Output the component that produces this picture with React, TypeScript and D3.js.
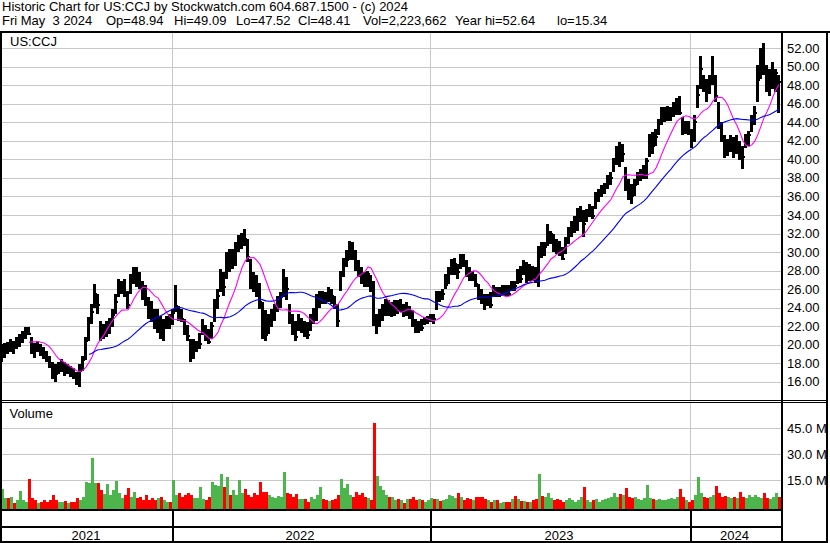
import React from 'react';
import * as d3 from 'd3';

// ---- Data (each sample ≈ 3 trading days) ----
const highs = [
  20.1,20.2,20.3,20.6,20.4,20.8,21.1,21.5,21.9,21.9,
  20.8,20.2,20.4,20.1,19.7,19.3,18.8,18.1,17.9,18.1,
  18.4,18.1,17.9,17.7,17.5,17.0,17.9,18.8,20.8,23.0,
  24.4,26.5,25.5,22.6,22.2,22.6,22.9,23.8,25.5,27.1,
  26.9,27.1,25.8,27.6,28.4,28.4,27.8,26.9,26.4,25.1,
  24.7,23.9,23.9,23.1,22.8,23.1,23.3,23.9,26.4,24.2,
  23.9,22.8,22.1,20.6,20.6,20.4,21.3,22.8,22.1,21.7,
  22.4,24.9,26.0,28.2,27.8,30.0,30.3,30.3,31.1,31.8,
  32.1,32.5,31.4,29.3,27.8,27.5,26.7,24.6,23.7,23.3,
  23.9,24.4,25.3,25.7,28.2,27.3,24.4,23.3,22.6,23.3,
  22.9,22.6,22.4,23.3,24.0,25.5,25.8,25.8,25.7,26.2,
  26.0,25.3,24.4,28.0,29.4,30.2,31.2,31.1,30.2,29.1,
  28.4,27.8,28.0,27.5,26.9,23.3,23.9,24.4,24.9,24.8,
  24.6,24.8,24.8,24.9,24.4,24.6,24.2,23.7,22.8,22.6,
  22.8,23.0,23.1,23.3,23.3,25.8,25.8,26.0,27.6,28.4,
  29.3,29.4,28.7,29.8,29.8,29.1,28.4,28.0,27.6,26.6,
  26.0,25.5,25.5,25.7,26.4,26.2,26.2,26.4,26.4,26.4,
  26.9,26.9,28.2,28.5,29.1,28.9,28.7,28.5,28.4,30.6,
  31.1,31.1,33.0,32.3,32.0,31.4,31.2,30.5,31.6,32.7,
  33.4,33.9,34.8,35.0,34.5,34.7,35.2,35.0,36.5,36.8,
  37.2,37.5,38.3,38.6,40.2,41.5,41.9,41.7,39.2,37.9,
  37.4,37.9,38.6,39.0,39.4,40.2,42.8,43.0,43.3,44.4,
  45.7,45.7,45.8,45.7,46.2,46.6,46.8,44.6,44.2,44.2,
  43.3,44.8,48.0,51.2,49.1,48.7,49.1,51.2,49.1,46.2,
  44.0,42.6,42.2,42.6,42.4,42.6,42.0,41.5,42.8,43.1,
  44.8,45.8,50.2,52.0,52.6,50.2,49.8,50.5,49.8,49.1,
];
const lows = [
  18.1,18.6,19.0,19.2,19.0,19.5,19.7,20.2,20.6,21.0,
  19.0,18.6,19.2,18.8,18.4,18.1,17.5,16.3,16.0,16.8,
  17.0,16.6,16.8,16.5,16.3,15.6,15.4,17.2,18.3,20.4,
  22.2,24.0,23.3,20.4,20.6,20.8,21.1,21.9,23.3,25.1,
  25.5,25.1,23.9,25.5,26.6,26.2,26.0,24.8,24.2,22.8,
  22.4,21.7,21.3,20.6,20.4,21.7,21.7,22.1,23.5,22.6,
  22.4,21.0,20.4,18.1,18.4,19.2,19.5,21.0,20.4,20.1,
  20.6,22.4,23.9,25.7,25.3,27.1,27.8,28.2,28.5,30.0,
  30.3,30.7,28.9,26.0,25.7,25.1,23.9,20.6,20.4,21.2,
  21.9,22.6,23.5,24.0,25.1,24.8,22.2,21.0,20.4,21.5,
  21.3,20.8,20.6,21.5,22.2,22.6,24.0,24.4,24.4,24.6,
  24.4,23.9,21.9,25.8,27.3,28.4,29.1,29.1,28.0,27.3,
  26.6,26.2,26.2,25.7,22.0,21.1,21.9,22.6,23.1,23.1,
  23.0,23.1,23.3,23.5,23.0,23.1,22.8,21.9,21.3,21.3,
  21.5,22.1,22.2,22.4,22.2,23.7,24.6,24.8,26.0,26.6,
  27.5,27.5,27.1,28.2,28.4,27.3,26.9,26.9,26.2,24.8,
  24.4,23.7,24.2,24.0,25.1,25.1,25.1,25.3,25.3,25.3,
  25.8,25.8,26.6,26.7,27.5,26.7,26.9,26.9,26.7,26.2,
  29.4,29.6,30.7,30.9,30.0,29.8,29.6,29.1,29.8,30.9,
  31.6,32.1,32.3,33.2,31.6,33.2,33.8,33.6,34.7,35.4,
  35.9,36.3,36.8,37.2,38.6,39.4,39.2,39.7,36.6,35.6,
  35.2,36.1,37.2,37.7,37.9,37.9,40.3,40.6,41.5,42.6,
  43.7,44.0,44.2,44.2,44.6,44.8,44.8,42.6,42.8,42.6,
  41.2,41.9,45.5,47.6,47.3,46.2,47.1,48.0,46.2,43.3,
  41.9,40.2,40.4,40.8,40.2,40.6,39.9,39.0,41.2,41.5,
  43.0,43.7,46.2,48.7,49.1,47.3,46.9,47.6,47.3,45.0,
];
const closes = [
  19.0,19.5,19.4,20.2,19.6,20.3,20.8,21.1,21.4,21.2,
  19.6,19.4,19.8,19.3,18.9,18.5,17.9,16.9,16.8,17.4,
  17.8,17.2,17.5,17.0,16.9,16.1,17.2,18.3,20.4,22.5,
  23.5,25.5,24.3,21.3,21.5,22.0,22.4,23.2,24.6,26.0,
  26.5,25.7,24.3,27.0,27.8,27.5,26.5,25.9,24.5,23.6,
  23.2,22.1,22.5,21.5,22.0,22.4,22.2,23.4,24.2,23.3,
  22.8,21.5,20.9,19.0,19.4,19.7,20.1,22.0,21.2,20.3,
  22.0,24.4,25.2,27.4,26.2,29.0,28.6,29.5,30.2,31.0,
  31.5,31.4,29.5,26.8,26.6,25.6,24.6,21.2,21.0,22.2,
  22.9,23.9,24.4,25.1,26.5,26.0,22.5,21.9,20.8,21.9,
  22.1,21.6,21.0,22.6,23.4,24.7,25.2,25.0,24.9,25.7,
  25.2,24.3,22.6,27.4,28.5,29.1,30.5,30.0,28.7,28.1,
  27.2,26.8,27.6,26.2,22.2,22.5,22.9,23.5,24.2,23.5,
  23.9,24.0,23.9,24.2,23.5,24.0,23.2,22.4,21.6,21.9,
  21.8,22.5,22.6,23.0,22.8,25.2,24.9,25.5,26.4,27.6,
  28.4,28.7,27.8,29.2,29.0,27.8,27.3,27.4,26.6,25.4,
  24.8,24.4,24.7,24.3,25.8,25.5,25.7,25.9,25.6,25.5,
  26.5,26.3,27.4,27.1,28.4,27.3,27.9,27.5,27.2,30.1,
  30.0,30.5,31.7,31.9,30.6,30.3,29.9,29.3,31.0,31.7,
  32.6,33.3,34.0,34.4,33.0,34.2,34.6,33.9,35.6,36.2,
  36.5,37.2,37.5,38.0,39.5,40.4,39.8,40.6,37.5,36.5,
  36.0,37.2,38.0,38.4,38.8,39.8,42.1,41.5,42.4,43.9,
  44.4,44.8,45.2,45.3,45.6,45.9,45.0,43.5,43.5,43.2,
  42.6,44.0,47.0,49.8,48.5,47.3,48.3,49.0,46.8,43.8,
  42.3,41.0,41.3,41.8,40.9,41.5,40.5,40.3,41.9,42.6,
  44.2,45.0,48.6,50.5,49.8,48.0,48.0,49.2,49.3,48.41,
];
// volume in millions
const volumes = [
  9.8,4.6,4.6,5.1,1.7,3.6,9.0,3.6,2.7,15.7,
  4.6,3.6,1.7,2.7,3.6,2.7,3.6,6.5,3.6,2.7,
  2.7,3.0,1.7,2.7,2.7,5.0,3.6,5.5,13.8,13.2,
  27.7,13.2,13.2,9.4,7.0,12.8,6.5,9.4,14.6,7.4,
  4.6,6.5,10.7,5.5,8.4,4.6,5.5,3.6,6.5,3.6,
  4.6,3.6,4.6,5.5,3.6,2.7,2.7,15.2,6.5,7.4,
  5.5,6.8,7.8,6.5,4.6,4.6,11.3,4.0,3.6,5.5,
  14.0,12.3,11.7,18.6,11.3,16.7,6.5,9.4,6.5,15.2,
  7.4,9.8,6.5,5.5,7.4,6.5,14.0,8.4,8.4,6.5,
  5.5,4.6,5.9,5.5,19.9,7.4,7.0,5.5,7.0,4.2,
  4.2,4.0,2.7,5.1,4.0,6.8,10.9,4.0,3.6,3.0,
  3.6,4.0,6.5,15.7,10.3,12.8,6.5,5.5,8.2,6.5,
  7.4,5.5,4.6,3.6,48.3,17.5,11.7,9.4,6.5,5.5,
  5.1,3.6,4.0,3.6,1.7,4.2,4.0,5.5,3.6,4.0,
  3.6,2.7,3.6,4.6,4.2,4.0,3.2,3.6,4.0,6.5,
  6.1,4.6,7.8,5.1,3.6,4.6,4.0,3.6,5.1,5.5,
  5.5,4.0,3.6,2.7,3.6,3.6,1.7,2.7,2.7,2.7,
  4.0,5.9,4.0,3.2,3.2,2.7,2.7,3.6,4.0,18.6,
  5.9,5.5,7.4,4.6,3.6,4.0,3.6,2.7,3.6,4.6,
  3.6,2.7,3.6,5.5,10.9,3.6,2.7,3.6,4.0,2.7,
  3.6,4.0,4.6,5.5,7.8,5.5,7.0,6.5,10.3,5.5,
  4.6,5.5,4.0,3.6,4.6,12.3,4.6,4.2,3.6,4.0,
  3.6,3.6,4.0,4.6,4.0,5.5,10.0,5.5,3.6,2.7,
  3.6,6.5,16.7,7.8,5.5,4.6,5.1,6.5,11.7,7.4,
  5.5,6.1,5.5,4.6,5.5,4.6,8.2,5.5,4.6,6.5,
  5.5,6.5,5.1,4.6,7.4,4.6,4.0,5.1,7.4,5.1,
];
const priceTicks = [16, 18, 20, 22, 24, 26, 28, 30, 32, 34, 36, 38, 40, 42, 44, 46, 48, 50, 52];
const volumeTicks = [15, 30, 45];
const yearLabels = ['2021', '2022', '2023', '2024'];
// sample index at which each new year begins (2022, 2023, 2024)
const yearBreakIdx = [56.83, 142.83, 229.5];
const headerLine1 = 'Historic Chart for US:CCJ by Stockwatch.com 604.687.1500 - (c) 2024';
const headerFields = ['Fri May  3 2024', 'Op=48.94', 'Hi=49.09', 'Lo=47.52', 'Cl=48.41', 'Vol=2,223,662', 'Year hi=52.64', 'lo=15.34'];
const headerFieldX = [2, 106, 174, 236, 298, 363, 455, 557];
const symbol = 'US:CCJ';
const MA_SHORT = 10;
const MA_LONG = 30;

const W = 830;
const H = 543;
const PLOT_L = 2;
const PLOT_R = 781;
const FONT = '"Liberation Sans", Arial, sans-serif';
const GRID = '#c8c8c8';
const GREEN = '#4cb54c';
const RED = '#ff0000';

function sma(arr: number[], n: number): (number | null)[] {
  return arr.map((_, i) => (i < n - 1 ? null : (d3.mean(arr.slice(i - n + 1, i + 1)) as number)));
}

export default function App() {
  const n = closes.length;
  const x = d3.scaleLinear().domain([0, n - 1]).range([1.5, 778.5]);
  const y = d3.scaleLinear().domain([16, 52]).range([381.7, 48.3]);
  const yv = d3.scaleLinear().domain([0, 45]).range([506.3, 428.3]);
  const volBase = 509.3;

  const maS = sma(closes, MA_SHORT);
  const maL = sma(closes, MA_LONG);
  const line = d3
    .line<number | null>()
    .defined((d) => d !== null)
    .x((_, i) => x(i) + 0.5)
    .y((d) => y(d as number));

  const breaksX = yearBreakIdx.map((b) => Math.round(x(b)));
  const segEdges = [PLOT_L, ...breaksX, PLOT_R];

  return (
    <svg
      width={W}
      height={H}
      style={{ position: 'absolute', left: 0, top: 0, display: 'block', background: '#fff' }}
      fontFamily={FONT}
    >
      <rect x={0} y={0} width={W} height={H} fill="#fff" />
      {/* header */}
      <text x={2} y={11} fontSize={13} fill="#000">{headerLine1}</text>
      <text y={24.5} fontSize={13} fill="#000" style={{ whiteSpace: 'pre' }}>
        {headerFields.map((f, i) => (
          <tspan key={i} x={headerFieldX[i]}>{f}</tspan>
        ))}
      </text>

      {/* grid */}
      <g shapeRendering="crispEdges">
        {priceTicks.map((t) => (
          <line key={t} x1={PLOT_L} x2={PLOT_R} y1={Math.round(y(t)) + 0.5} y2={Math.round(y(t)) + 0.5} stroke={GRID} />
        ))}
        {volumeTicks.map((t) => (
          <line key={t} x1={PLOT_L} x2={PLOT_R} y1={Math.round(yv(t)) + 0.5} y2={Math.round(yv(t)) + 0.5} stroke={GRID} />
        ))}
        {breaksX.map((bx, i) => (
          <line key={i} x1={bx + 0.5} x2={bx + 0.5} y1={33} y2={509} stroke={GRID} />
        ))}
      </g>

      {/* price bars */}
      <g shapeRendering="crispEdges" fill="#000">
        {closes.map((c, i) => {
          const px = Math.floor(x(i));
          const yh = Math.round(y(highs[i]));
          const yl = Math.round(y(lows[i]));
          return (
            <g key={i}>
              <rect x={px - 1} y={yh} width={3} height={Math.max(1, yl - yh)} />
              <rect x={px + 2} y={Math.round(y(c)) - 1} width={1} height={2} />
            </g>
          );
        })}
      </g>

      {/* moving averages */}
      <path d={line(maS) || ''} fill="none" stroke="#ff00ff" strokeWidth={1.1} />
      <path d={line(maL) || ''} fill="none" stroke="#0000ff" strokeWidth={1.1} />

      {/* volume bars */}
      <g shapeRendering="crispEdges">
        {volumes.map((v, i) => {
          const px = Math.floor(x(i));
          const up = i === 0 ? true : closes[i] >= closes[i - 1];
          const top = yv(v);
          return <rect key={i} x={px} y={top} width={3} height={volBase - top} fill={up ? GREEN : RED} />;
        })}
      </g>

      {/* labels in panels */}
      <text x={10} y={45.5} fontSize={13} fill="#000">{symbol}</text>
      <text x={9.5} y={418} fontSize={13} fill="#000">Volume</text>

      {/* right axis labels */}
      {priceTicks.map((t) => (
        <text key={t} x={787} y={y(t) + 4.5} fontSize={13} fill="#000">{t.toFixed(2)}</text>
      ))}
      {volumeTicks.map((t) => (
        <text key={t} x={787} y={yv(t) + 4.5} fontSize={13} fill="#000">{t.toFixed(1)} M</text>
      ))}

      {/* year labels */}
      {yearLabels.map((lab, i) => (
        <text key={lab} x={(segEdges[i] + segEdges[i + 1]) / 2 - 1} y={540} fontSize={13} textAnchor="middle" fill="#000">
          {lab}
        </text>
      ))}

      {/* frame */}
      <g shapeRendering="crispEdges" fill="#000">
        <rect x={0} y={31} width={W} height={2} />
        <rect x={0} y={31} width={2} height={H - 31} />
        <rect x={PLOT_R} y={31} width={2} height={H - 31} />
        <rect x={826} y={31} width={2} height={H - 31} />
        <rect x={0} y={400} width={828} height={1} />
        <rect x={0} y={402} width={828} height={1} />
        <rect x={0} y={509} width={PLOT_R + 2} height={2} />
        <rect x={0} y={526} width={PLOT_R + 2} height={2} />
        <rect x={0} y={541} width={828} height={2} />
        {breaksX.map((bx, i) => (
          <rect key={i} x={bx} y={509} width={2} height={34} />
        ))}
      </g>
    </svg>
  );
}
